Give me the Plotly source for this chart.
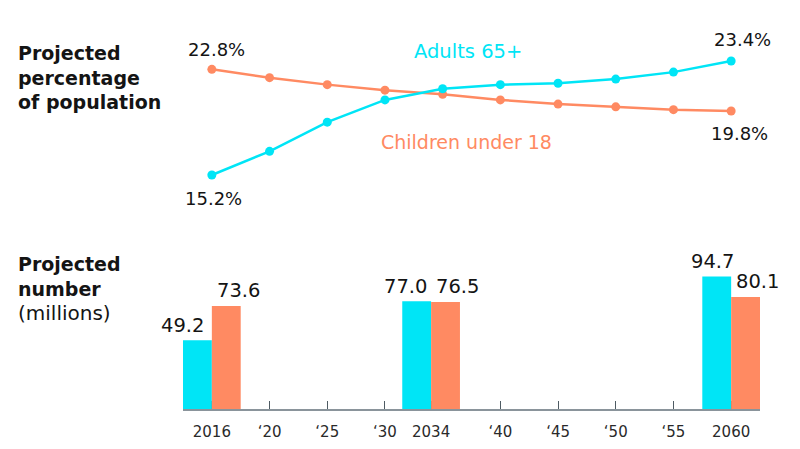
import plotly.graph_objects as go

# ---------------- data ----------------
line_years = [2016, 2020, 2025, 2030, 2035, 2040, 2045, 2050, 2055, 2060]
adults_pct = [15.2, 16.9, 19.0, 20.6, 21.4, 21.7, 21.8, 22.1, 22.6, 23.4]
children_pct = [22.8, 22.2, 21.7, 21.3, 21.0, 20.6, 20.3, 20.1, 19.9, 19.8]

bar_years = [2016, 2034, 2060]
adults_num = [49.2, 77.0, 94.7]
children_num = [73.6, 76.5, 80.1]

tick_years = [2016, 2020, 2025, 2030, 2034, 2040, 2045, 2050, 2055, 2060]
tick_text = ["2016", "\u201820", "\u201825", "\u201830", "2034", "\u201840",
             "\u201845", "\u201850", "\u201855", "2060"]

# ---------------- style ----------------
CYAN = "#00E5F6"
ORANGE = "#FF8A62"
INK = "#141414"
FONT = "DejaVu Sans"

# page body adds an 8px margin; figure is sized so it fits the 800x449 window
OFF = 8
W, H = 800 - 2 * OFF, 449 - 2 * OFF


def px_x(p):
    return (p - OFF) / W


def px_y(p):
    return 1 - (p - OFF) / H


def to_axis(year):
    # the start year sits on the 5-year grid of the axis
    return 2015 if year == 2016 else year


lx = [to_axis(y) for y in line_years]
bx = [to_axis(y) for y in bar_years]
tx = [to_axis(y) for y in tick_years]

fig = go.Figure()

# line chart (top)
fig.add_trace(go.Scatter(x=lx, y=children_pct, mode="lines+markers",
                         line=dict(color=ORANGE, width=2.5),
                         marker=dict(size=9, color=ORANGE),
                         xaxis="x", yaxis="y", cliponaxis=False,
                         hoverinfo="skip"))
fig.add_trace(go.Scatter(x=lx, y=adults_pct, mode="lines+markers",
                         line=dict(color=CYAN, width=2.5),
                         marker=dict(size=9, color=CYAN),
                         xaxis="x", yaxis="y", cliponaxis=False,
                         hoverinfo="skip"))

# bar chart (bottom)
fig.add_trace(go.Bar(x=bx, y=adults_num, width=2.5, offset=-2.5,
                     marker=dict(color=CYAN, line=dict(width=0)),
                     xaxis="x2", yaxis="y2", hoverinfo="skip"))
fig.add_trace(go.Bar(x=bx, y=children_num, width=2.5, offset=0,
                     marker=dict(color=ORANGE, line=dict(width=0)),
                     xaxis="x2", yaxis="y2", hoverinfo="skip"))

pct_font = dict(size=18, color=INK, family=FONT)
ann = []
# endpoint labels for line chart
ann.append(dict(x=lx[0], y=children_pct[0], xref="x", yref="y",
                text=f"{children_pct[0]:.1f}%", showarrow=False,
                xshift=5, yshift=20, font=pct_font))
ann.append(dict(x=lx[0], y=adults_pct[0], xref="x", yref="y",
                text=f"{adults_pct[0]:.1f}%", showarrow=False,
                xshift=2, yshift=-24, font=pct_font))
ann.append(dict(x=lx[-1], y=adults_pct[-1], xref="x", yref="y",
                text=f"{adults_pct[-1]:.1f}%", showarrow=False,
                xshift=11, yshift=21, font=pct_font))
ann.append(dict(x=lx[-1], y=children_pct[-1], xref="x", yref="y",
                text=f"{children_pct[-1]:.1f}%", showarrow=False,
                xshift=8, yshift=-22, font=pct_font))

# series labels
ann.append(dict(x=2037.2, y=24.1, xref="x", yref="y", text="Adults 65+",
                showarrow=False, font=dict(size=19.5, color=CYAN, family=FONT)))
ann.append(dict(x=2037.1, y=17.57, xref="x", yref="y", text="Children under 18",
                showarrow=False, font=dict(size=19, color=ORANGE, family=FONT)))

# bar value labels
bar_font = dict(size=19.5, color=INK, family=FONT)
cyan_shift = [-15, -11, -4]
for x, v, s in zip(bx, adults_num, cyan_shift):
    ann.append(dict(x=x - 1.25, y=v, xref="x2", yref="y2", text=f"{v:.1f}",
                    showarrow=False, yanchor="middle", xshift=s, yshift=15,
                    font=bar_font))
for x, v in zip(bx, children_num):
    ann.append(dict(x=x + 1.25, y=v, xref="x2", yref="y2", text=f"{v:.1f}",
                    showarrow=False, yanchor="middle", xshift=12, yshift=15,
                    font=bar_font))

# left titles
ann.append(dict(x=px_x(16), y=px_y(78), xref="paper", yref="paper",
                text="<b>Projected<br>percentage<br>of population</b>",
                showarrow=False, xanchor="left", yanchor="middle", align="left",
                font=dict(size=19, color=INK, family=FONT)))
ann.append(dict(x=px_x(16), y=px_y(289), xref="paper", yref="paper",
                text="<b>Projected<br>number</b><br><span style='font-size:20px'>(millions)</span>",
                showarrow=False, xanchor="left", yanchor="middle", align="left",
                font=dict(size=19, color=INK, family=FONT)))

xdom = [px_x(183), px_x(760)]
xrange_ = [2012.5, 2062.5]

fig.update_layout(
    width=W, height=H,
    margin=dict(l=0, r=0, t=0, b=0),
    paper_bgcolor="white", plot_bgcolor="rgba(0,0,0,0)",
    showlegend=False,
    barmode="overlay",
    font=dict(family=FONT, color=INK),
    annotations=ann,
    xaxis=dict(domain=xdom, range=xrange_, visible=False, anchor="y"),
    yaxis=dict(domain=[px_y(200), px_y(30)], range=[13.40, 25.63],
               visible=False, anchor="x"),
    xaxis2=dict(domain=xdom, range=xrange_, anchor="y2",
                showline=True, linecolor="#8A949B", linewidth=1.5,
                ticks="inside", ticklen=8, tickcolor="#4F5B63", tickwidth=1,
                tickvals=tx, ticktext=tick_text, showgrid=False, zeroline=False,
                tickfont=dict(size=15, color="#2A2A2A", family=FONT),
                ticklabelstandoff=8,
                layer="below traces"),
    yaxis2=dict(domain=[px_y(409), px_y(250)], range=[0, 113.6], visible=False,
                anchor="x2"),
)

fig.write_html("out.html")
